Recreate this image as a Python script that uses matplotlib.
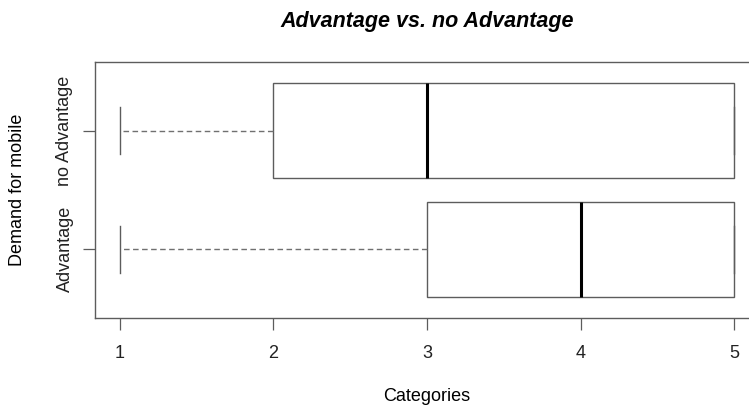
import matplotlib
matplotlib.use("Agg")
import matplotlib.pyplot as plt

plt.rcParams["font.family"] = ["Liberation Sans", "DejaVu Sans"]

# five-number summaries (bottom group first)
groups = ["Advantage", "no Advantage"]
whisker_lo = [1, 1]
q1 = [3, 2]
median = [4, 3]
q3 = [5, 5]
whisker_hi = [5, 5]

stats = [
    {"label": g, "whislo": lo, "q1": a, "med": m, "q3": b, "whishi": hi}
    for g, lo, a, m, b, hi in zip(groups, whisker_lo, q1, median, q3, whisker_hi)
]

W, H = 749, 407
fig = plt.figure(figsize=(W / 100, H / 100), dpi=100)
# plot region: x 95..759 px (cut off at the right edge), y 62..318 px
ax = fig.add_axes([95 / W, 1 - 318 / H, (759 - 95) / W, (318 - 62) / H])

edge = "#5c5c5c"
ax.bxp(stats, positions=[1, 2], widths=0.8, vert=False, showfliers=False,
       patch_artist=True,
       boxprops=dict(facecolor="white", edgecolor=edge, linewidth=1.0),
       medianprops=dict(color="black", linewidth=2.2),
       whiskerprops=dict(color="#707070", linewidth=1.0, linestyle=(0, (4, 2.5))),
       capprops=dict(color=edge, linewidth=1.0),
       capwidths=0.4)

ax.set_xlim(0.84, 5.16)
ax.set_ylim(0.42, 2.58)
ax.set_xticks([1, 2, 3, 4, 5])
ax.set_xticklabels(["1", "2", "3", "4", "5"])
ax.set_yticks([1, 2])
ax.set_yticklabels(groups, rotation=90, va="center")

for s in ax.spines.values():
    s.set_color(edge)
    s.set_linewidth(1.0)
ax.tick_params(axis="both", colors="#222222", labelsize=13, length=8.5,
               width=0.9, direction="out")
ax.tick_params(axis="both", color=edge)
ax.tick_params(axis="x", pad=11)
ax.tick_params(axis="y", pad=7)

fig.text(427 / W, 1 - 27.5 / H, "Advantage vs. no Advantage", ha="center",
         va="baseline", fontsize=15.5, fontweight="bold", fontstyle="italic")
fig.text(427 / W, 1 - 401 / H, "Categories", ha="center", va="baseline",
         fontsize=13)
fig.text(18 / W, 1 - 190 / H, "Demand for mobile", ha="center", va="center",
         rotation=90, fontsize=13)

fig.savefig("out.png", dpi=100)
